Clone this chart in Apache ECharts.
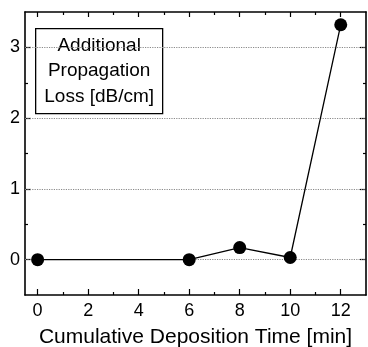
<!DOCTYPE html>
<html>
<head>
<meta charset="utf-8">
<script src="https://cdn.jsdelivr.net/npm/echarts@6/dist/echarts.min.js"></script>
<style>
html,body{margin:0;padding:0;background:#fff;}
#chart{width:368px;height:347px;}
</style>
</head>
<body>
<div id="chart"></div>
<script>
var times = [0, 6, 8, 10, 12];
var losses = [0, 0, 0.17, 0.03, 3.32];
var xMajorTicks = [0, 2, 4, 6, 8, 10, 12];
var xMinorTicks = [1, 3, 5, 7, 9, 11];
var yMajorTicks = [0, 1, 2, 3];
var yMinorTicks = [0.5, 1.5, 2.5];
var legendLines = ['Additional', 'Propagation', 'Loss [dB/cm]'];
var xTitle = 'Cumulative Deposition Time [min]';

var FONT = '"Liberation Sans", Arial, Helvetica, sans-serif';
var XMIN = -0.5, XMAX = 13, YMIN = -0.5, YMAX = 3.5;

function xAx(pos, ticks, len, withLine, withLabel) {
  return {
    type: 'value', position: pos, min: XMIN, max: XMAX,
    axisLine: {show: withLine, onZero: false, lineStyle: {color: '#000', width: 1.6}},
    axisTick: {show: true, inside: true, length: len, customValues: ticks, lineStyle: {color: '#000', width: 1.2}},
    axisLabel: withLabel ? {show: true, customValues: xMajorTicks, color: '#000', fontSize: 18, fontFamily: FONT, margin: 7} : {show: false},
    splitLine: {show: false},
    name: withLabel ? xTitle : '',
    nameLocation: 'middle', nameGap: 32,
    nameTextStyle: {color: '#000', fontSize: 21, fontFamily: FONT}
  };
}
function yAx(pos, ticks, len, withLine, withLabel) {
  return {
    type: 'value', position: pos, min: YMIN, max: YMAX,
    axisLine: {show: withLine, onZero: false, lineStyle: {color: '#000', width: 1.6}},
    axisTick: {show: true, inside: true, length: len, customValues: ticks, lineStyle: {color: '#000', width: 1.2}},
    axisLabel: withLabel ? {show: true, customValues: yMajorTicks, color: '#000', fontSize: 18, fontFamily: FONT, margin: 5} : {show: false},
    splitLine: {show: false}
  };
}

var chart = echarts.init(document.getElementById('chart'), null, {renderer: 'canvas'});
chart.setOption({
  animation: false,
  backgroundColor: '#fff',
  grid: {left: 25, right: 2, top: 12, bottom: 52, containLabel: false, outerBoundsMode: 'none'},
  xAxis: [
    xAx('bottom', xMajorTicks, 6, true, true),
    xAx('bottom', xMinorTicks, 3, false, false),
    xAx('top', xMajorTicks, 5, true, false),
    xAx('top', xMinorTicks, 3, false, false)
  ],
  yAxis: [
    yAx('left', yMajorTicks, 6, true, true),
    yAx('left', yMinorTicks, 3, false, false),
    yAx('right', yMajorTicks, 6, true, false),
    yAx('right', yMinorTicks, 3, false, false)
  ],
  series: [{
    type: 'line',
    xAxisIndex: 0, yAxisIndex: 0,
    data: times.map(function (t, i) { return [t, losses[i]]; }),
    symbol: 'circle', symbolSize: 13,
    itemStyle: {color: '#000'},
    lineStyle: {color: '#000', width: 1.3},
    z: 5,
    markLine: {
      silent: true, symbol: 'none', label: {show: false},
      lineStyle: {color: '#8a8a8a', type: 'dotted', width: 1.2},
      z: 1,
      data: yMajorTicks.map(function (v) { return {yAxis: v}; })
    }
  }],
  graphic: [{
    type: 'group', left: 35, top: 28, z: 10,
    children: [
      {type: 'rect', shape: {x: 0, y: 0, width: 127, height: 85},
       style: {fill: '#fff', stroke: '#000', lineWidth: 1.3}},
      {type: 'text', x: 63.5, y: 4,
       style: {text: legendLines.join('\n'), textAlign: 'center', textVerticalAlign: 'top',
               font: '19px ' + FONT, lineHeight: 25.5, fill: '#000'}}
    ]
  }]
});
</script>
</body>
</html>
